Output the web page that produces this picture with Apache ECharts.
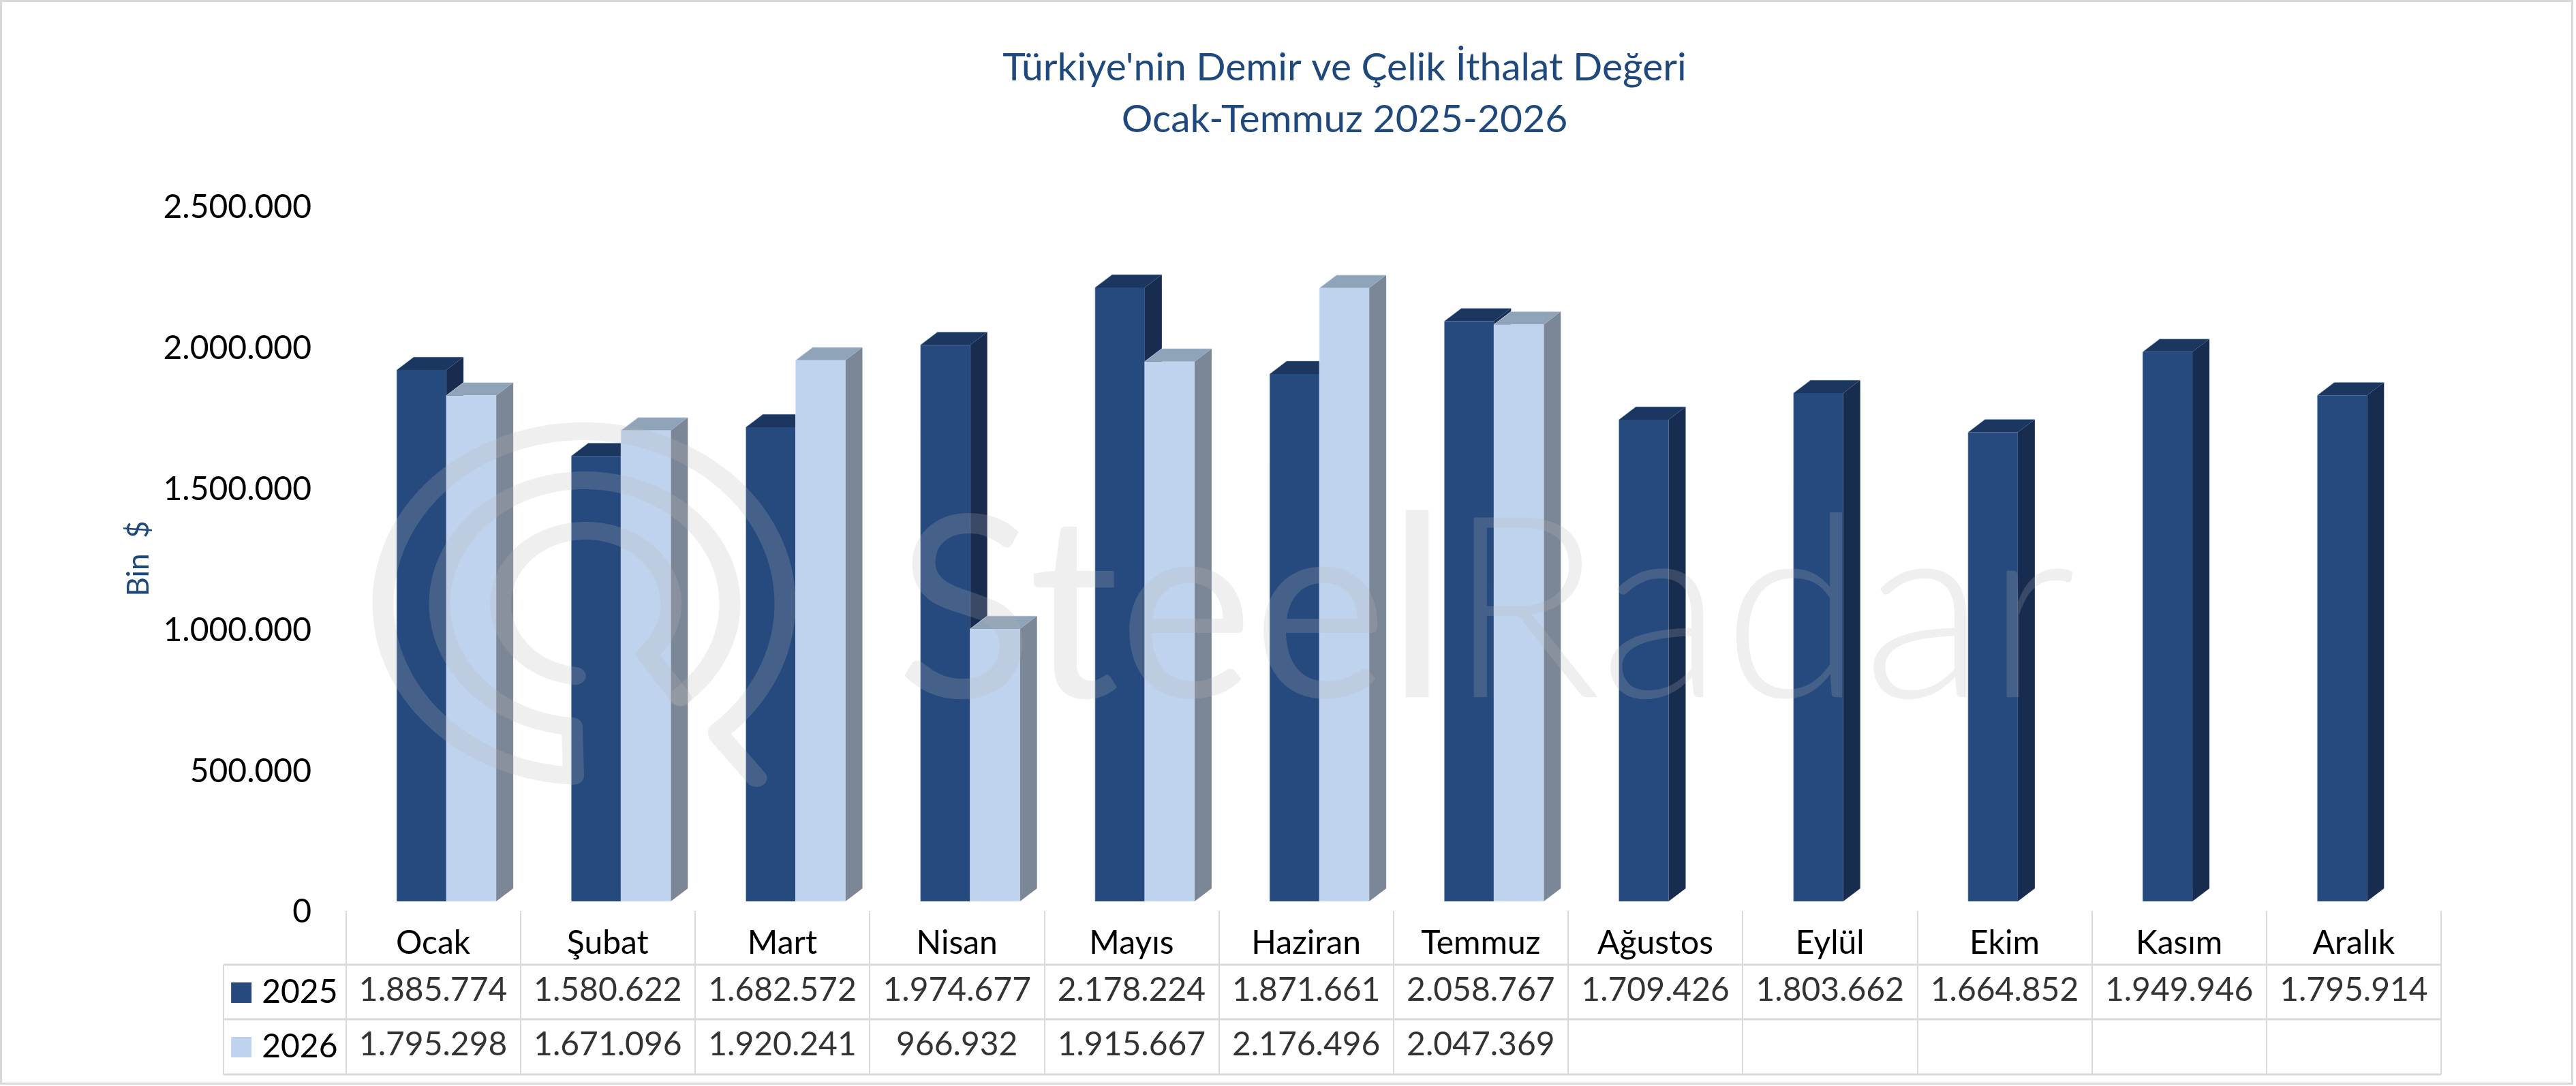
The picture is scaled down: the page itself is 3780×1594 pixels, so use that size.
<!DOCTYPE html>
<html>
<head>
<meta charset="utf-8">
<style>html,body{margin:0;padding:0;background:#fff}#c{width:3780px;height:1594px}</style>
<script src="https://cdn.jsdelivr.net/npm/echarts@6/dist/echarts.min.js"></script>
</head>
<body>
<div id="c"></div>
<script>
const months = ['Ocak','Şubat','Mart','Nisan','Mayıs','Haziran','Temmuz','Ağustos','Eylül','Ekim','Kasım','Aralık'];
const values2025 = [1885774,1580622,1682572,1974677,2178224,1871661,2058767,1709426,1803662,1664852,1949946,1795914];
const values2026 = [1795298,1671096,1920241,966932,1915667,2176496,2047369,null,null,null,null,null];
const seriesNames = ['2025','2026'];
const titleLines = ["Türkiye'nin Demir ve Çelik İthalat Değeri",'Ocak-Temmuz 2025-2026'];
const yAxisName = 'Bin  $';
const watermark = ['Steel','Radar'];

const FONT = 'Lato';
const palette = [
  {front:'#264A7E', top:'#1B365F', side:'#182C50'},
  {front:'#BFD3EE', top:'#8FA3B9', side:'#7B8796'}
];
const TABLE = {left:507.5, right:3582, top:1337, r1:1416, r2:1496, bottom:1577, keyLeft:328};
const GRID = {left:527, top:289, width:3074.4, height:1034};
const DX = 25, DY = 19, BAR_RATIO = 0.285;
const fmt = v => String(v).replace(/\B(?=(\d{3})+(?!\d))/g,'.');

function cuboid(seriesPos, colors){
  return function(params, api){
    const v = api.value(1);
    if (v == null || isNaN(v)) return;
    const top = api.coord([api.value(0), v]);
    const base = api.coord([api.value(0), 0]);
    const w = api.size([1,0])[0] * BAR_RATIO;
    const x0 = top[0] + (seriesPos === 0 ? -w : 0), x1 = x0 + w;
    const y = top[1], y0 = base[1];
    const edge = seriesPos === 0 ? 'rgba(170,195,230,.6)' : 'rgba(215,228,248,.8)';
    return {type:'group', children:[
      {type:'polygon', shape:{points:[[x1,y],[x1+DX,y-DY],[x1+DX,y0-DY],[x1,y0]]}, style:{fill:colors.side}},
      {type:'polygon', shape:{points:[[x0,y],[x1,y],[x1+DX,y-DY],[x0+DX,y-DY]]}, style:{fill:colors.top}},
      {type:'rect', shape:{x:x0,y:y,width:w,height:y0-y}, style:{fill:colors.front}},
      {type:'polyline', shape:{points:[[x0,y0],[x0,y],[x0+DX,y-DY],[x1+DX,y-DY]]}, style:{fill:null, stroke:edge, lineWidth:1}}
    ]};
  };
}
function arcPts(cx,cy,rx,ry,a0,a1){
  const p=[], n=Math.ceil(Math.abs(a1-a0)/2), d=(a1-a0)/n;
  for(let i=0;i<=n;i++){const t=(a0+d*i)*Math.PI/180; p.push([cx+rx*Math.cos(t), cy+ry*Math.sin(t)]);}
  return p;
}
const WM_S = 0.84;
const wmStyle = {stroke:'rgba(181,181,181,.22)', fill:null, lineWidth:31, lineCap:'round', lineJoin:'round'};
const squash = pts => pts.map(p=>[p[0], p[1]/WM_S]);
const logoA = [[1110,1142],[1055,1079]]
  .concat(arcPts(857,886,295,253,408,93))
  .concat(arcPts(858,886,213,181,95,409));
const logoB = arcPts(859.5,886,125,107,97,404).concat([[999,1024]]);

const tableCells = [];
values2025.forEach((v,i)=>tableCells.push({value:[i,1], txt:fmt(v)}));
values2026.forEach((v,i)=>{ if(v!=null) tableCells.push({value:[i,2], txt:fmt(v)}); });

const chart = echarts.init(document.getElementById('c'), null, {renderer:'canvas'});
chart.setOption({
  animation:false,
  backgroundColor:'#fff',
  title:{
    text:titleLines.join('\n'), left:1968, top:57, textAlign:'center',
    textStyle:{fontFamily:FONT, fontSize:57, fontWeight:'normal', color:'#1F497D', lineHeight:76}
  },
  grid:[
    {left:GRID.left, top:GRID.top, width:GRID.width, height:GRID.height},
    {left:TABLE.left, top:TABLE.top, width:TABLE.right-TABLE.left, height:TABLE.bottom-TABLE.top}
  ],
  xAxis:[
    {gridIndex:0, type:'category', data:months, axisLine:{show:false}, axisTick:{show:false}, axisLabel:{show:false}, splitLine:{show:false}},
    {gridIndex:1, type:'category', data:months, position:'top', axisLine:{show:false}, axisTick:{show:false},
     axisLabel:{inside:true, margin:24, interval:0, fontFamily:FONT, fontSize:48, color:'#000'},
     splitLine:{show:true, interval:0, lineStyle:{color:'#D9D9D9', width:2}}}
  ],
  yAxis:[
    {gridIndex:0, type:'value', min:0, max:2500000, interval:500000,
     name:yAxisName, nameLocation:'middle', nameGap:301, nameRotate:90,
     nameTextStyle:{fontFamily:FONT, fontSize:44, color:'#1F497D', padding:[0,28,0,0]},
     axisLine:{show:false}, axisTick:{show:false}, splitLine:{show:false},
     axisLabel:{margin:70, fontFamily:FONT, fontSize:48, color:'#000', verticalAlign:'top', lineHeight:32, formatter:v=>fmt(v)}},
    {gridIndex:1, type:'category', inverse:true, data:['',seriesNames[0],seriesNames[1]],
     axisLine:{show:false}, axisTick:{show:false}, splitLine:{show:false},
     axisLabel:{margin:12, interval:0,
       formatter:(v,i)=> v==='' ? '' : '{k'+(i-1)+'|}{g|}{t|'+v+'}',
       rich:{
         k0:{width:30,height:30,backgroundColor:palette[0].front},
         k1:{width:30,height:30,backgroundColor:palette[1].front},
         g:{width:15},
         t:{fontFamily:FONT,fontSize:48,color:'#000'}
       }}}
  ],
  series:[
    {name:seriesNames[0], type:'custom', xAxisIndex:0, yAxisIndex:0, z:2, clip:false,
     renderItem:cuboid(0,palette[0]), encode:{x:0,y:1}, data:values2025.map((v,i)=>[i,v])},
    {name:seriesNames[1], type:'custom', xAxisIndex:0, yAxisIndex:0, z:3, clip:false,
     renderItem:cuboid(1,palette[1]), encode:{x:0,y:1}, data:values2026.map((v,i)=>[i,v==null?'-':v])},
    {type:'scatter', xAxisIndex:1, yAxisIndex:1, symbolSize:1, silent:true, itemStyle:{color:'transparent'},
     data:tableCells,
     label:{show:true, position:'inside', fontFamily:FONT, fontSize:48, color:'#000', offset:[0,-3], formatter:p=>p.data.txt}}
  ],
  graphic:{elements:[
    {type:'rect', z:0, shape:{x:1.5,y:1.5,width:3773,height:1589}, style:{fill:null, stroke:'#D9D9D9', lineWidth:3}},
    {type:'line', z:1, shape:{x1:TABLE.keyLeft,y1:TABLE.r1,x2:TABLE.right,y2:TABLE.r1}, style:{stroke:'#D9D9D9',lineWidth:3}},
    {type:'line', z:1, shape:{x1:TABLE.keyLeft,y1:TABLE.r2,x2:TABLE.right,y2:TABLE.r2}, style:{stroke:'#D9D9D9',lineWidth:3}},
    {type:'line', z:1, shape:{x1:TABLE.keyLeft,y1:TABLE.bottom,x2:TABLE.right,y2:TABLE.bottom}, style:{stroke:'#D9D9D9',lineWidth:3}},
    {type:'line', z:1, shape:{x1:TABLE.keyLeft,y1:TABLE.r1,x2:TABLE.keyLeft,y2:TABLE.bottom}, style:{stroke:'#D9D9D9',lineWidth:2}},
    {type:'polyline', z:100, silent:true, scaleY:WM_S, shape:{points:squash(logoA)}, style:wmStyle},
    {type:'polyline', z:100, silent:true, scaleY:WM_S, shape:{points:squash(logoB)}, style:wmStyle},
    {type:'text', z:100, silent:true, x:1315, y:903,
     style:{text:'{a|'+watermark[0]+'}{b|'+watermark[1]+'}', verticalAlign:'middle', align:'left',
       rich:{
         a:{fontFamily:FONT, fontSize:373, fontWeight:'normal', fill:'rgba(181,181,181,.22)', color:'rgba(181,181,181,.22)'},
         b:{fontFamily:FONT, fontSize:373, fontWeight:300, fill:'rgba(181,181,181,.22)', color:'rgba(181,181,181,.22)'}
       }}}
  ]}
});
</script>
</body>
</html>
